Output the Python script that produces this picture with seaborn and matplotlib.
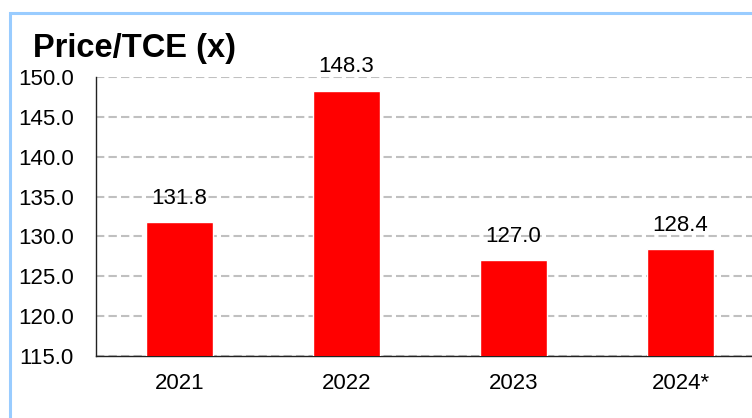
import pandas as pd
import matplotlib.pyplot as plt
import seaborn as sns
from matplotlib.patches import Rectangle

# dados do grafico
anos = ["2021", "2022", "2023", "2024*"]
precoTce = [131.8, 148.3, 127.0, 128.4]
ticksY = [115, 120, 125, 130, 135, 140, 145, 150]

df = pd.DataFrame({"Ano": anos, "Price/TCE": precoTce})

sns.set_style("white")
plt.rcParams["font.family"] = ["Liberation Sans", "DejaVu Sans"]
plt.rcParams["text.color"] = "black"
plt.rcParams["xtick.color"] = "black"
plt.rcParams["ytick.color"] = "black"

fig = plt.figure(figsize=(7.52, 4.18), dpi=100)
ax = fig.add_axes([96 / 752, 62 / 418, 668 / 752, 279 / 418])

sns.barplot(data=df, x="Ano", y="Price/TCE", color="#ff0000", saturation=1, width=0.4, ax=ax, zorder=3)

ax.set_ylim(115, 150)
ax.set_xlim(-0.5, 3.5)
ax.set_yticks(ticksY)
ax.set_yticklabels([f"{v:.1f}" for v in ticksY], fontsize=16)
ax.set_xticks(range(len(anos)))
ax.set_xticklabels(anos, fontsize=16)
ax.set_xticks([i - 0.5 for i in range(len(anos) + 1)], minor=True)
ax.tick_params(axis="x", which="major", length=0, pad=12)
ax.tick_params(axis="x", which="minor", length=6, width=1, color="#222222")
ax.tick_params(axis="y", length=6, width=1, color="#222222", pad=10)
ax.set_xlabel("")
ax.set_ylabel("")

# grade tracejada
ax.yaxis.grid(True, color="#c0c0c0", linestyle=(0, (4, 2)), linewidth=1.5, zorder=0)
ax.set_axisbelow(True)
for lado in ["top", "right"]:
    ax.spines[lado].set_visible(False)
for lado in ["left", "bottom"]:
    ax.spines[lado].set_color("#222222")
    ax.spines[lado].set_linewidth(1)

# rotulos acima das barras
for i, v in enumerate(precoTce):
    ax.annotate(f"{v:.1f}", (i, v), xytext=(0, 13), textcoords="offset points",
                ha="center", va="baseline", fontsize=16, annotation_clip=False)

fig.text(33 / 752, 1 - 57 / 418, "Price/TCE (x)", fontsize=23.5, fontweight="bold", va="baseline", ha="left")

# moldura azul clara
fig.patches.append(Rectangle((9.5 / 752, -0.1), 1.2, 1 - 13 / 418 + 0.1, transform=fig.transFigure,
                             fill=False, edgecolor="#99ccff", linewidth=2.2))

fig.savefig("out.png", dpi=100)
